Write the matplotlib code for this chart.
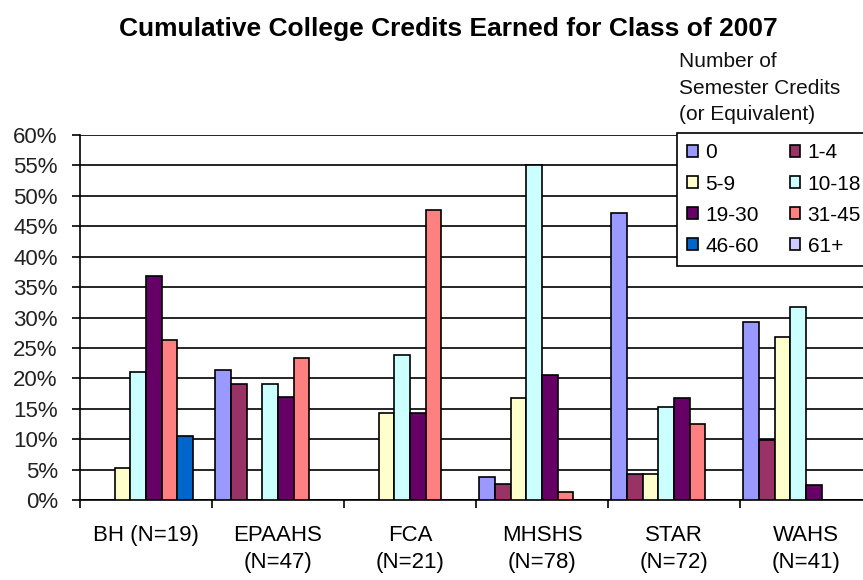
import numpy as np
import matplotlib
matplotlib.use("Agg")
import matplotlib.pyplot as plt

plt.rcParams['font.family'] = ['Liberation Sans', 'DejaVu Sans']

# ---- data (percent of students per credit band) ----
schools = ['BH (N=19)', 'EPAAHS\n(N=47)', 'FCA\n(N=21)', 'MHSHS\n(N=78)',
           'STAR\n(N=72)', 'WAHS\n(N=41)']
bands = ['0', '1-4', '5-9', '10-18', '19-30', '31-45', '46-60', '61+']

v_0     = [0.0, 21.3, 0.0, 3.8, 47.2, 29.3]
v_1_4   = [0.0, 19.1, 0.0, 2.6, 4.2, 9.8]
v_5_9   = [5.3, 0.0, 14.3, 16.7, 4.2, 26.8]
v_10_18 = [21.1, 19.1, 23.8, 55.1, 15.3, 31.7]
v_19_30 = [36.8, 17.0, 14.3, 20.5, 16.7, 2.4]
v_31_45 = [26.3, 23.4, 47.6, 1.3, 12.5, 0.0]
v_46_60 = [10.5, 0.0, 0.0, 0.0, 0.0, 0.0]
v_61    = [0.0, 0.0, 0.0, 0.0, 0.0, 0.0]
series = [v_0, v_1_4, v_5_9, v_10_18, v_19_30, v_31_45, v_46_60, v_61]

colors = ['#9999FF', '#993366', '#FFFFCC', '#CCFFFF',
          '#660066', '#FF8080', '#0066CC', '#CCCCFF']

# ---- figure ----
W, H = 863, 580
fig = plt.figure(figsize=(W / 100, H / 100), dpi=100)
ax = fig.add_axes([80 / W, 1 - 500 / H, (872 - 80) / W, (500 - 135) / H])

x = np.arange(len(schools))
bw = 0.119
handles = []
for i, (vals, c) in enumerate(zip(series, colors)):
    b = ax.bar(x + (i - 3.5) * bw, vals, width=bw, color=c, edgecolor='black',
               linewidth=1.2, label=bands[i], zorder=3)
    handles.append(b)

ax.set_xlim(-0.5, len(schools) - 0.5)
ax.set_ylim(0, 60)
ax.set_yticks(np.arange(0, 61, 5))
ax.set_yticklabels([f'{t}%' for t in range(0, 61, 5)])
ax.yaxis.grid(True, color='black', linewidth=1.2, zorder=0)
ax.set_axisbelow(True)

ax.set_xticks(x)
ax.set_xticklabels(schools, linespacing=1.4)
ax.set_xticks(np.arange(-0.5, len(schools), 1), minor=True)
ax.tick_params(axis='x', which='major', length=0, pad=18, labelsize=16)
ax.tick_params(axis='x', which='minor', length=6, width=1.2, direction='out')
ax.tick_params(axis='y', length=6, width=1.2, pad=10, labelsize=16,
               labelcolor='#222222')

for s in ['top', 'right']:
    ax.spines[s].set_visible(False)
for s in ['left', 'bottom']:
    ax.spines[s].set_linewidth(1.2)

fig.text(448 / W, 1 - 29 / H, 'Cumulative College Credits Earned for Class of 2007',
         ha='center', va='center', fontsize=19, fontweight='bold')

fig.text(679 / W, 1 - 88 / H, 'Number of\nSemester Credits\n(or Equivalent)',
         ha='left', va='center', fontsize=15, linespacing=1.5, color='#111111')

# Excel fills the legend row by row; matplotlib fills column by column
order = [0, 2, 4, 6, 1, 3, 5, 7]
leg = ax.legend([handles[k] for k in order], [bands[k] for k in order],
                ncol=2, loc='upper left', bbox_to_anchor=(677 / W, 1 - 133 / H),
                bbox_transform=fig.transFigure, borderaxespad=0, fontsize=15,
                frameon=True, fancybox=False, framealpha=1, edgecolor='black',
                handlelength=0.5, handleheight=0.5, handletextpad=0.35,
                columnspacing=1.5, labelspacing=0.58, borderpad=0.5)
leg.get_frame().set_linewidth(1.2)
leg.set_zorder(5)

fig.savefig('out.png', dpi=100, facecolor='white')
